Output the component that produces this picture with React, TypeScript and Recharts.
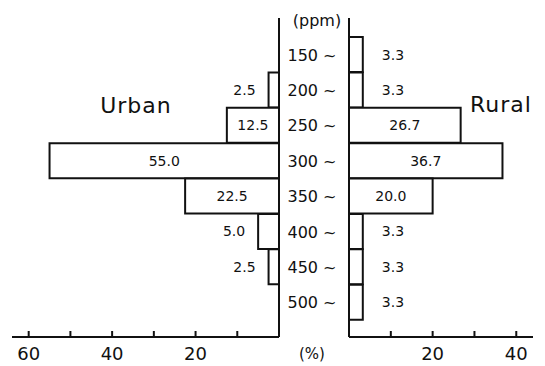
import { Bar, BarChart, LabelList, XAxis, YAxis } from "recharts";

const ranges = ["150 ~", "200 ~", "250 ~", "300 ~", "350 ~", "400 ~", "450 ~", "500 ~"];
const urban = [0, 2.5, 12.5, 55.0, 22.5, 5.0, 2.5, 0];
const rural = [3.3, 3.3, 26.7, 36.7, 20.0, 3.3, 3.3, 3.3];
const urbanTicks = [10, 20, 30, 40, 50, 60];
const ruralTicks = [10, 20, 30, 40];
const labelledTicks = [20, 40, 60];

const rows = ranges.map((range, i) => ({ range, urban: urban[i], rural: rural[i] }));

const FONT = "'DejaVu Sans', sans-serif";
const INK = "#111";

function AxisTick(props: any) {
  const { x, y, payload } = props;
  const v = payload.value;
  return (
    <g>
      <line x1={x} x2={x} y1={y} y2={y - 6} stroke={INK} strokeWidth={2} />
      {labelledTicks.includes(v) && (
        <text x={x} y={y + 23} textAnchor="middle" fontFamily={FONT} fontSize={18} fill={INK}>
          {v}
        </text>
      )}
    </g>
  );
}

function RangeTick(props: any) {
  const { y, payload } = props;
  return (
    <text x={32} y={y} dy={6} textAnchor="middle" fontFamily={FONT} fontSize={16} fill={INK}>
      {payload.value}
    </text>
  );
}

function makeLabel(side: "urban" | "rural") {
  return (props: any) => {
    const { x, y, width, height, value } = props;
    if (!value) return null;
    const left = Math.min(x, x + width);
    const right = Math.max(x, x + width);
    const w = Math.abs(width);
    const cy = y + height / 2 + 5;
    let tx = (left + right) / 2;
    let anchor = "middle";
    if (w < 40) {
      tx = side === "urban" ? left - 13 : right + 19;
      anchor = side === "urban" ? "end" : "start";
    }
    return (
      <text x={tx} y={cy} textAnchor={anchor as any} fontFamily={FONT} fontSize={14} fill={INK}>
        {value.toFixed(1)}
      </text>
    );
  };
}

const padding = { top: 19, bottom: 17 };

export default function App() {
  return (
    <div style={{ position: "absolute", left: 0, top: 0, width: 545, height: 366, background: "#fff" }}>
      <div style={{ position: "absolute", left: 0, top: 0 }}>
        <BarChart
          width={280}
          height={366}
          data={rows}
          layout="vertical"
          barCategoryGap={0}
          margin={{ top: 18, right: 0, bottom: 0, left: 12 }}
        >
          <XAxis
            type="number"
            domain={[0, 64]}
            reversed
            ticks={urbanTicks}
            height={29}
            tickSize={0}
            tickMargin={0}
            tickLine={false}
            axisLine={{ stroke: INK, strokeWidth: 2 }}
            tick={<AxisTick />}
            interval={0}
          />
          <YAxis
            type="category"
            dataKey="range"
            orientation="right"
            width={1}
            padding={padding}
            tick={false}
            tickLine={false}
            axisLine={{ stroke: INK, strokeWidth: 2 }}
          />
          <Bar dataKey="urban" fill="#fff" stroke={INK} strokeWidth={2} isAnimationActive={false}>
            <LabelList dataKey="urban" content={makeLabel("urban")} />
          </Bar>
        </BarChart>
      </div>
      <div style={{ position: "absolute", left: 280, top: 0 }}>
        <BarChart
          width={253}
          height={366}
          data={rows}
          layout="vertical"
          barCategoryGap={0}
          margin={{ top: 18, right: 0, bottom: 0, left: 0 }}
        >
          <XAxis
            type="number"
            domain={[0, 44]}
            ticks={ruralTicks}
            height={29}
            tickSize={0}
            tickMargin={0}
            tickLine={false}
            axisLine={{ stroke: INK, strokeWidth: 2 }}
            tick={<AxisTick />}
            interval={0}
          />
          <YAxis
            type="category"
            dataKey="range"
            width={69}
            padding={padding}
            tickLine={false}
            axisLine={{ stroke: INK, strokeWidth: 2 }}
            tick={<RangeTick />}
            interval={0}
          />
          <Bar dataKey="rural" fill="#fff" stroke={INK} strokeWidth={2} isAnimationActive={false}>
            <LabelList dataKey="rural" content={makeLabel("rural")} />
          </Bar>
        </BarChart>
      </div>
      <svg
        width={545}
        height={366}
        style={{ position: "absolute", left: 0, top: 0, pointerEvents: "none" }}
      >
        <text x={136} y={113} textAnchor="middle" fontFamily={FONT} fontSize={22} letterSpacing={1} fill={INK}>
          Urban
        </text>
        <text x={501} y={112} textAnchor="middle" fontFamily={FONT} fontSize={22} letterSpacing={1} fill={INK}>
          Rural
        </text>
        <text x={317} y={26} textAnchor="middle" fontFamily={FONT} fontSize={16} fill={INK}>
          (ppm)
        </text>
        <text x={312} y={359} textAnchor="middle" fontFamily={FONT} fontSize={15} fill={INK}>
          (%)
        </text>
      </svg>
    </div>
  );
}
